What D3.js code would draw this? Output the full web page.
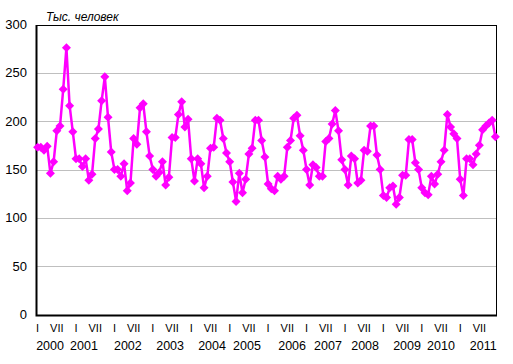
<!DOCTYPE html>
<html>
<head>
<meta charset="utf-8">
<script src="https://cdn.jsdelivr.net/npm/d3@7"></script>
<style>
  html, body { margin: 0; padding: 0; background: #fff; }
  svg { display: block; font-family: "Liberation Sans", Arial, sans-serif; }
</style>
</head>
<body>
<svg id="chart" width="513" height="364"></svg>
<script>
// --- Data: thousand people, monthly Jan 2000 .. Dec 2011 ---
const years = [2000, 2001, 2002, 2003, 2004, 2005, 2006, 2007, 2008, 2009, 2010, 2011];
const monthTicks = [{ m: 0, label: 'I' }, { m: 6, label: 'VII' }];
const yTicks = [0, 50, 100, 150, 200, 250, 300];

const v2000 = [173, 173, 170, 174, 146, 158, 190, 195, 233, 276, 216, 189];
const v2001 = [161, 161, 153, 161, 139, 145, 182, 192, 221, 246, 204, 168];
const v2002 = [150, 150, 143, 156, 128, 136, 182, 176, 214, 218, 189, 164];
const v2003 = [150, 143, 147, 158, 134, 142, 183, 183, 207, 220, 194, 202];
const v2004 = [161, 138, 161, 156, 131, 143, 172, 173, 203, 201, 182, 167];
const v2005 = [158, 137, 117, 146, 126, 140, 166, 172, 201, 201, 180, 163];
const v2006 = [135, 130, 128, 143, 140, 143, 173, 180, 203, 206, 185, 170];
const v2007 = [150, 134, 155, 152, 143, 143, 179, 182, 197, 211, 190, 160];
const v2008 = [150, 134, 164, 161, 136, 139, 170, 169, 195, 195, 165, 150];
const v2009 = [123, 121, 131, 133, 114, 121, 144, 144, 181, 181, 157, 150];
const v2010 = [131, 126, 124, 143, 135, 145, 158, 170, 207, 194, 187, 182];
const v2011 = [140, 123, 161, 161, 155, 166, 175, 191, 195, 198, 201, 184];

const values = [].concat(v2000, v2001, v2002, v2003, v2004, v2005,
                         v2006, v2007, v2008, v2009, v2010, v2011);

// year captions sit a little off-centre in the original (in months from Jan)
const yearLabelShift = [3.9, 2.5, 4.2, 5.4, 6.5, 5.4, 7.5, 6.7, 6.3, 7.4, 6.0, 7.2];

// --- Layout ---
const plotL = 36, plotR = 497, plotT = 24.5, plotB = 314.5;
const svg = d3.select('#chart');

const x = d3.scalePoint()
  .domain(d3.range(values.length))
  .range([plotL, plotR])
  .padding(0.5);
const step = x.step();
const y = d3.scaleLinear().domain([0, 300]).range([plotB, plotT]);

// gridlines
svg.append('g')
  .selectAll('line')
  .data(yTicks.filter(t => t > 0 && t < 300))
  .join('line')
  .attr('x1', plotL).attr('x2', plotR)
  .attr('y1', d => Math.round(y(d)) + 0.5)
  .attr('y2', d => Math.round(y(d)) + 0.5)
  .attr('stroke', '#bfbfbf')
  .attr('stroke-width', 1);

// frame
svg.append('rect')
  .attr('x', plotL + 0.5).attr('y', Math.round(plotT) + 0.5)
  .attr('width', plotR - plotL - 1)
  .attr('height', Math.round(plotB) - Math.round(plotT))
  .attr('fill', 'none')
  .attr('stroke', '#000')
  .attr('stroke-width', 1);
// heavier axis lines (left + bottom)
svg.append('path')
  .attr('d', `M${plotL + 0.5},${Math.round(plotT)}V${Math.round(plotB) + 0.5}H${plotR}`)
  .attr('fill', 'none')
  .attr('stroke', '#000')
  .attr('stroke-width', 2);

// y tick labels
svg.append('g')
  .selectAll('text')
  .data(yTicks)
  .join('text')
  .attr('x', 27)
  .attr('y', d => y(d))
  .attr('dy', '0.35em')
  .attr('text-anchor', 'end')
  .attr('font-size', 13)
  .attr('fill', '#000')
  .text(d => d);

// unit caption
svg.append('text')
  .attr('x', 46).attr('y', 21)
  .attr('font-size', 12)
  .attr('font-style', 'italic')
  .attr('fill', '#000')
  .text('Тыс. человек');

// month ticks (I, VII)
const monthLabels = [];
years.forEach((yr, k) => monthTicks.forEach(t => monthLabels.push({ i: k * 12 + t.m, label: t.label })));
svg.append('g')
  .selectAll('text')
  .data(monthLabels)
  .join('text')
  .attr('x', d => x(d.i))
  .attr('y', 332)
  .attr('text-anchor', 'middle')
  .attr('font-size', 11)
  .attr('fill', '#000')
  .text(d => d.label);

// year captions
svg.append('g')
  .selectAll('text')
  .data(years)
  .join('text')
  .attr('x', (d, k) => x(k * 12) + yearLabelShift[k] * step)
  .attr('y', 350)
  .attr('text-anchor', 'middle')
  .attr('font-size', 12.5)
  .attr('fill', '#000')
  .text(d => d);

// series line
const line = d3.line()
  .x((d, i) => x(i))
  .y(d => y(d));

svg.append('path')
  .datum(values)
  .attr('d', line)
  .attr('fill', 'none')
  .attr('stroke', '#ff00ff')
  .attr('stroke-width', 2.5)
  .attr('stroke-linejoin', 'round');

// diamond markers
const r = 4.5;
svg.append('g')
  .selectAll('path')
  .data(values)
  .join('path')
  .attr('transform', (d, i) => `translate(${x(i)},${y(d)})`)
  .attr('d', `M0,${-r}L${r},0L0,${r}L${-r},0Z`)
  .attr('fill', '#ff00ff');
</script>
</body>
</html>
